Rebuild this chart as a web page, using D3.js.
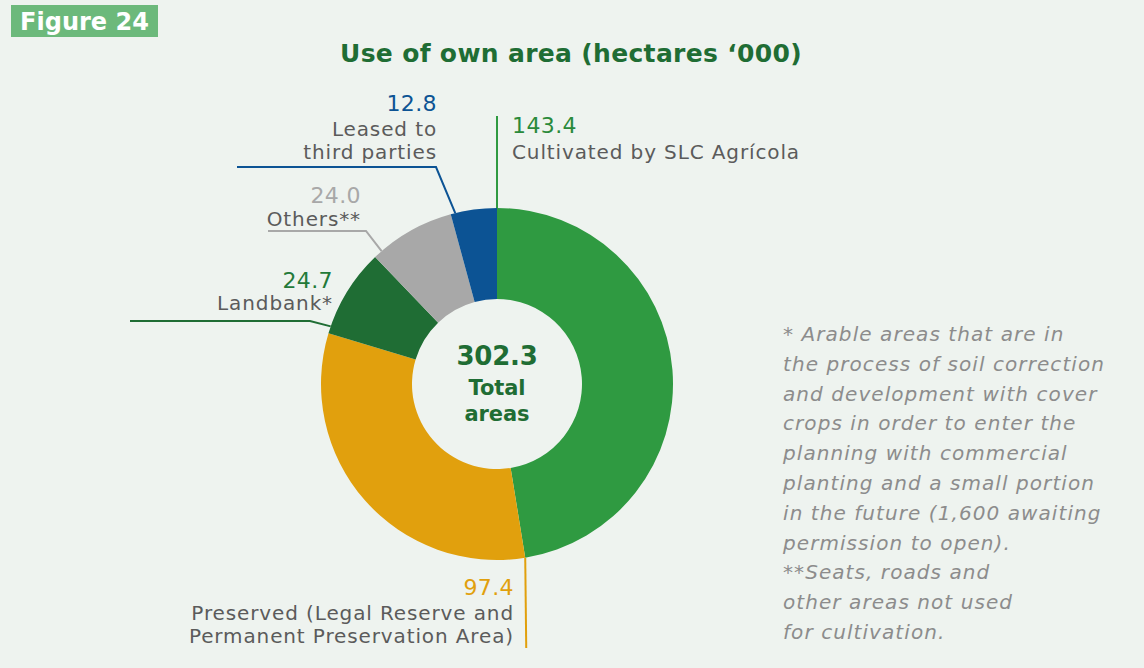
<!DOCTYPE html>
<html>
<head>
<meta charset="utf-8">
<script src="https://cdn.jsdelivr.net/npm/d3@7"></script>
<style>
  html, body { margin: 0; padding: 0; background: #eef3ef; }
  svg { display: block; }
  text { font-family: "DejaVu Sans", "Open Sans", sans-serif; }
</style>
</head>
<body>
<svg id="chart" width="1144" height="668"></svg>
<script>
// Land use breakdown, thousands of hectares (clockwise from 12 o'clock)
const categories = ["Cultivated", "Preserved", "Landbank", "Others", "Leased"];
const values = [143.4, 97.4, 24.7, 24.0, 12.8];
const valueLabels = ["143.4", "97.4", "24.7", "24.0", "12.8"];
const labelLines = [
  ["Cultivated by SLC Agrícola"],
  ["Preserved (Legal Reserve and", "Permanent Preservation Area)"],
  ["Landbank*"],
  ["Others**"],
  ["Leased to", "third parties"]
];
const sliceColors = ["#2f9a41", "#e1a00d", "#1f6d34", "#a8a8a8", "#0c5394"];
const valueColors = ["#2a8a3b", "#e1a00d", "#237a39", "#a8a8a8", "#0c5394"];
const totalLabel = "302.3";
const footnoteLines = [
  "* Arable areas that are in",
  "the process of soil correction",
  "and development with cover",
  "crops in order to enter the",
  "planning with commercial",
  "planting and a small portion",
  "in the future (1,600 awaiting",
  "permission to open).",
  "**Seats, roads and",
  "other areas not used",
  "for cultivation."
];

const svg = d3.select("#chart");

// letter-spacing that stretches a sample string of a text style to a given width
function spacingFor(attrs, sample, width) {
  const t = svg.append("text").text(sample);
  Object.entries(attrs).forEach(([k, v]) => t.attr(k, v));
  const w = t.node().getComputedTextLength();
  t.remove();
  return (width - w) / sample.length;
}

const styles = {
  tag:   { "font-size": 24, "font-weight": 700 },
  title: { "font-size": 25, "font-weight": 700 },
  value: { "font-size": 22, "font-weight": 400 },
  label: { "font-size": 20, "font-weight": 400 },
  total: { "font-size": 26, "font-weight": 700 },
  totalWord: { "font-size": 21, "font-weight": 700 },
  note:  { "font-size": 20, "font-weight": 200, "font-style": "italic" }
};
const spacing = {
  tag: spacingFor(styles.tag, "Figure 24", 129),
  title: spacingFor(styles.title, "Use of own area (hectares \u2018000)", 462),
  value: spacingFor(styles.value, "143.4", 65),
  label: spacingFor(styles.label, "Cultivated by SLC Agrícola", 288),
  total: spacingFor(styles.total, "302.3", 81),
  totalWord: spacingFor(styles.totalWord, "areas", 65),
  note: spacingFor(styles.note, "the process of soil correction", 322)
};

function addText(parent, style, x, y, str) {
  const t = parent.append("text").attr("x", x).attr("y", y).text(str)
    .attr("letter-spacing", spacing[style]);
  Object.entries(styles[style]).forEach(([k, v]) => t.attr(k, v));
  return t;
}

// Figure tag
svg.append("rect").attr("x", 11).attr("y", 5).attr("width", 147).attr("height", 32).attr("fill", "#6cb97b");
addText(svg, "tag", 20, 30, "Figure 24").attr("fill", "#ffffff");

// Title
addText(svg, "title", 340, 62, "Use of own area (hectares \u2018000)").attr("fill", "#1f6d34");

const cx = 497, cy = 384, rOuter = 176, rInner = 85;
const g = svg.append("g").attr("transform", `translate(${cx},${cy})`);

const pie = d3.pie().sort(null).value(d => d)(values);
const arc = d3.arc().innerRadius(rInner).outerRadius(rOuter);

g.selectAll("path.slice").data(pie).join("path")
  .attr("class", "slice")
  .attr("d", arc)
  .attr("fill", (d, i) => sliceColors[i]);

// point on outer rim at a fraction t through slice i
function rimPoint(i, t) {
  const a = pie[i].startAngle + (pie[i].endAngle - pie[i].startAngle) * t;
  return [Math.sin(a) * rOuter, -Math.cos(a) * rOuter];
}

// Leader lines + labels (page coordinates)
const layout = [
  { i: 0, t: 0.0, path: p => [p, [p[0], 116 - cy]], anchor: "start", x: 512, y: 133, gap: 26 },
  { i: 1, t: 1.0, path: p => [p, [p[0] + 1, 648 - cy]], anchor: "end", x: 514, y: 595, gap: 25 },
  { i: 2, t: 0.08, path: p => [p, [310 - cx, 321 - cy], [130 - cx, 321 - cy]], anchor: "end", x: 333, y: 288, gap: 22 },
  { i: 3, t: 0.1, path: p => [p, [366 - cx, 231 - cy], [268 - cx, 231 - cy]], anchor: "end", x: 361, y: 203, gap: 23 },
  { i: 4, t: 0.1, path: p => [p, [436 - cx, 167 - cy], [237 - cx, 167 - cy]], anchor: "end", x: 437, y: 111, gap: 25 }
];
// preserved line hangs from the far edge of the slice
layout[1].point = () => rimPoint(0, 1.0);

const line = d3.line();
layout.forEach(L => {
  const i = L.i;
  const p = L.point ? L.point() : rimPoint(i, L.t);
  g.append("path").attr("d", line(L.path(p)))
    .attr("fill", "none").attr("stroke", sliceColors[i]).attr("stroke-width", 2);

  addText(svg, "value", L.x, L.y, valueLabels[i])
    .attr("text-anchor", L.anchor).attr("fill", valueColors[i]);
  labelLines[i].forEach((s, k) => {
    addText(svg, "label", L.x, L.y + L.gap + k * 23, s)
      .attr("text-anchor", L.anchor).attr("fill", "#5b5b5b");
  });
});

// Centre total
const ct = svg.append("g").attr("fill", "#1f6d34").attr("text-anchor", "middle");
addText(ct, "total", cx, 365, totalLabel);
addText(ct, "totalWord", cx, 395, "Total");
addText(ct, "totalWord", cx, 421, "areas");

// Footnotes
const fn = svg.append("g").attr("fill", "#8c8c8c");
footnoteLines.forEach((s, k) => {
  addText(fn, "note", 783, 341 + k * 29.8, s);
});
</script>
</body>
</html>
